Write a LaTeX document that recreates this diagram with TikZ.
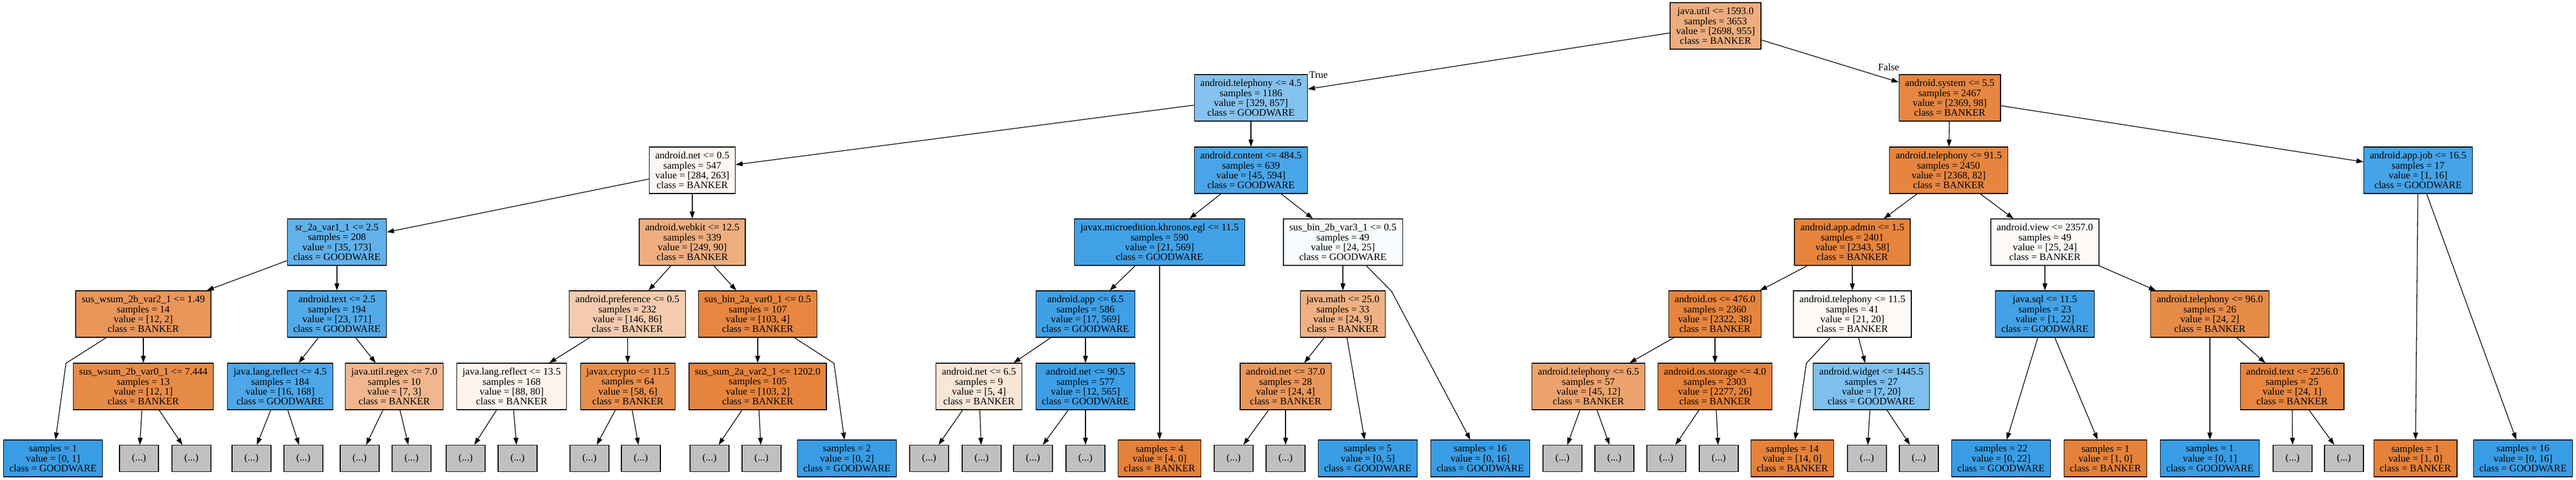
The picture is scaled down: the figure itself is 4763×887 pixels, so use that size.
\documentclass[tikz,border=0pt]{standalone}
\usepackage{fontspec}
\setmainfont{Liberation Serif}
\usetikzlibrary{arrows.meta}
\usepackage{xcolor}

\definecolor{banker}{RGB}{229,129,57}
\definecolor{goodware}{RGB}{57,157,229}
\definecolor{silver}{RGB}{192,192,192}

\newcommand{\splittext}[4]{#1\\samples = #2\\value = [#3]\\class = #4}
\newcommand{\leaftext}[3]{samples = #1\\value = [#2]\\class = #3}

\begin{document}
\begin{tikzpicture}[x=1pt, y=-1pt,
  treebox/.style={draw, line width=1.2pt, align=center, inner xsep=11pt, inner ysep=2pt,
    font=\fontsize{18.5}{18.3}\selectfont},
  splitbox/.style={treebox, minimum height=86pt},
  leafbox/.style={treebox, minimum height=68pt},
  more/.style={treebox, fill=silver, minimum width=72pt, minimum height=49pt},
  conn/.style={-{Triangle[length=13pt, width=9pt]}, line width=1.3pt}]

\useasboundingbox (0,0) rectangle (4763,887);

%level 0
\node [splitbox, fill=banker!65] (n0) at (3172,48) {\splittext{java.util <= 1593.0}{3653}{2698, 955}{BANKER}};

%level 1
\node [splitbox, fill=goodware!62] (n1) at (2313,181) {\splittext{android.telephony <= 4.5}{1186}{329, 857}{GOODWARE}};
\node [splitbox, fill=banker!96] (n2) at (3605,181) {\splittext{android.system <= 5.5}{2467}{2369, 98}{BANKER}};

%level 2
\node [splitbox, fill=banker!7] (n3) at (1280,315) {\splittext{android.net <= 0.5}{547}{284, 263}{BANKER}};
\node [splitbox, fill=goodware!92] (n4) at (2313,315) {\splittext{android.content <= 484.5}{639}{45, 594}{GOODWARE}};
\node [splitbox, fill=banker!97] (n5) at (3603,315) {\splittext{android.telephony <= 91.5}{2450}{2368, 82}{BANKER}};
\node [splitbox, fill=goodware!94] (n6) at (4471,315) {\splittext{android.app.job <= 16.5}{17}{1, 16}{GOODWARE}};

%level 3
\node [splitbox, fill=goodware!80] (n7) at (623,448) {\splittext{sr\_2a\_var1\_1 <= 2.5}{208}{35, 173}{GOODWARE}};
\node [splitbox, fill=banker!64] (n8) at (1280,448) {\splittext{android.webkit <= 12.5}{339}{249, 90}{BANKER}};
\node [splitbox, fill=goodware!96] (n9) at (2144,448) {\splittext{javax.microedition.khronos.egl <= 11.5}{590}{21, 569}{GOODWARE}};
\node [splitbox, fill=goodware!4] (n10) at (2483,448) {\splittext{sus\_bin\_2b\_var3\_1 <= 0.5}{49}{24, 25}{GOODWARE}};
\node [splitbox, fill=banker!98] (n11) at (3425,448) {\splittext{android.app.admin <= 1.5}{2401}{2343, 58}{BANKER}};
\node [splitbox, fill=banker!4] (n12) at (3781,448) {\splittext{android.view <= 2357.0}{49}{25, 24}{BANKER}};

%level 4
\node [splitbox, fill=banker!83] (n13) at (265,581) {\splittext{sus\_wsum\_2b\_var2\_1 <= 1.49}{14}{12, 2}{BANKER}};
\node [splitbox, fill=goodware!87] (n14) at (623,581) {\splittext{android.text <= 2.5}{194}{23, 171}{GOODWARE}};
\node [splitbox, fill=banker!41] (n15) at (1160,581) {\splittext{android.preference <= 0.5}{232}{146, 86}{BANKER}};
\node [splitbox, fill=banker!96] (n16) at (1401,581) {\splittext{sus\_bin\_2a\_var0\_1 <= 0.5}{107}{103, 4}{BANKER}};
\node [splitbox, fill=goodware!97] (n17) at (2007,581) {\splittext{android.app <= 6.5}{586}{17, 569}{GOODWARE}};
\node [splitbox, fill=banker!62] (n18) at (2483,581) {\splittext{java.math <= 25.0}{33}{24, 9}{BANKER}};
\node [splitbox, fill=banker!98] (n19) at (3171,581) {\splittext{android.os <= 476.0}{2360}{2322, 38}{BANKER}};
\node [splitbox, fill=banker!5] (n20) at (3425,581) {\splittext{android.telephony <= 11.5}{41}{21, 20}{BANKER}};
\node [splitbox, fill=goodware!95] (n21) at (3781,581) {\splittext{java.sql <= 11.5}{23}{1, 22}{GOODWARE}};
\node [splitbox, fill=banker!92] (n22) at (4086,581) {\splittext{android.telephony <= 96.0}{26}{24, 2}{BANKER}};

%level 5
\node [splitbox, fill=banker!92] (n23) at (265,715) {\splittext{sus\_wsum\_2b\_var0\_1 <= 7.444}{13}{12, 1}{BANKER}};
\node [splitbox, fill=goodware!90] (n24) at (518,715) {\splittext{java.lang.reflect <= 4.5}{184}{16, 168}{GOODWARE}};
\node [splitbox, fill=banker!57] (n25) at (729,715) {\splittext{java.util.regex <= 7.0}{10}{7, 3}{BANKER}};
\node [splitbox, fill=banker!9] (n26) at (946,715) {\splittext{java.lang.reflect <= 13.5}{168}{88, 80}{BANKER}};
\node [splitbox, fill=banker!90] (n27) at (1161,715) {\splittext{javax.crypto <= 11.5}{64}{58, 6}{BANKER}};
\node [splitbox, fill=banker!98] (n28) at (1401,715) {\splittext{sus\_sum\_2a\_var2\_1 <= 1202.0}{105}{103, 2}{BANKER}};
\node [splitbox, fill=banker!20] (n29) at (1810,715) {\splittext{android.net <= 6.5}{9}{5, 4}{BANKER}};
\node [splitbox, fill=goodware!98] (n30) at (2007,715) {\splittext{android.net <= 90.5}{577}{12, 565}{GOODWARE}};
\node [splitbox, fill=banker!83] (n31) at (2377,715) {\splittext{android.net <= 37.0}{28}{24, 4}{BANKER}};
\node [splitbox, fill=banker!73] (n32) at (2937,715) {\splittext{android.telephony <= 6.5}{57}{45, 12}{BANKER}};
\node [splitbox, fill=banker!99] (n33) at (3171,715) {\splittext{android.os.storage <= 4.0}{2303}{2277, 26}{BANKER}};
\node [splitbox, fill=goodware!65] (n34) at (3460,715) {\splittext{android.widget <= 1445.5}{27}{7, 20}{GOODWARE}};
\node [splitbox, fill=banker!96] (n35) at (4238,715) {\splittext{android.text <= 2256.0}{25}{24, 1}{BANKER}};

%leaves
\node [leafbox, fill=goodware] (l1) at (98,848) {\leaftext{1}{0, 1}{GOODWARE}};
\node [leafbox, fill=goodware] (l2) at (1566,848) {\leaftext{2}{0, 2}{GOODWARE}};
\node [leafbox, fill=banker] (l3) at (2144,848) {\leaftext{4}{4, 0}{BANKER}};
\node [leafbox, fill=goodware] (l4) at (2529,848) {\leaftext{5}{0, 5}{GOODWARE}};
\node [leafbox, fill=goodware] (l5) at (2737,848) {\leaftext{16}{0, 16}{GOODWARE}};
\node [leafbox, fill=banker] (l6) at (3314,848) {\leaftext{14}{14, 0}{BANKER}};
\node [leafbox, fill=goodware] (l7) at (3700,848) {\leaftext{22}{0, 22}{GOODWARE}};
\node [leafbox, fill=banker] (l8) at (3893,848) {\leaftext{1}{1, 0}{BANKER}};
\node [leafbox, fill=goodware] (l9) at (4086,848) {\leaftext{1}{0, 1}{GOODWARE}};
\node [leafbox, fill=banker] (l10) at (4466,848) {\leaftext{1}{1, 0}{BANKER}};
\node [leafbox, fill=goodware] (l11) at (4665,848) {\leaftext{16}{0, 16}{GOODWARE}};

%bends
\coordinate (b1) at (122,672);
\coordinate (b2) at (1542,672);
\coordinate (b3) at (2573,539);
\coordinate (b4) at (3340,672);

%edges
\draw [conn] (n0) -- (n1);
\draw [conn] (n0) -- (n2);
\draw [conn] (n1) -- (n3);
\draw [conn] (n1) -- (n4);
\draw [conn] (n2) -- (n5);
\draw [conn] (n2) -- (n6);
\draw [conn] (n3) -- (n7);
\draw [conn] (n3) -- (n8);
\draw [conn] (n4) -- (n9);
\draw [conn] (n4) -- (n10);
\draw [conn] (n5) -- (n11);
\draw [conn] (n5) -- (n12);
\draw [conn] (n6) -- (l10);
\draw [conn] (n6) -- (l11);
\draw [conn] (n7) -- (n13);
\draw [conn] (n7) -- (n14);
\draw [conn] (n8) -- (n15);
\draw [conn] (n8) -- (n16);
\draw [conn] (n9) -- (n17);
\draw [conn] (n9) -- (l3);
\draw [conn] (n10) -- (n18);
\draw [conn] (n10) -- (b3) -- (l5);
\draw [conn] (n11) -- (n19);
\draw [conn] (n11) -- (n20);
\draw [conn] (n12) -- (n21);
\draw [conn] (n12) -- (n22);
\draw [conn] (n13) -- (b1) -- (l1);
\draw [conn] (n13) -- (n23);
\draw [conn] (n14) -- (n24);
\draw [conn] (n14) -- (n25);
\draw [conn] (n15) -- (n26);
\draw [conn] (n15) -- (n27);
\draw [conn] (n16) -- (n28);
\draw [conn] (n16) -- (b2) -- (l2);
\draw [conn] (n17) -- (n29);
\draw [conn] (n17) -- (n30);
\draw [conn] (n18) -- (n31);
\draw [conn] (n18) -- (l4);
\draw [conn] (n19) -- (n32);
\draw [conn] (n19) -- (n33);
\draw [conn] (n20) -- (b4) -- (l6);
\draw [conn] (n20) -- (n34);
\draw [conn] (n21) -- (l7);
\draw [conn] (n21) -- (l8);
\draw [conn] (n22) -- (l9);
\draw [conn] (n22) -- (n35);

%cut subtrees
\foreach \p/\x in {n23/257, n23/354, n24/465, n24/561, n25/665, n25/761, n26/861, n26/957,
                   n27/1090, n27/1185, n28/1312, n28/1408, n29/1718, n29/1815, n30/1910, n30/2007,
                   n31/2281, n31/2377, n32/2889, n32/2985, n33/3081, n33/3178, n34/3452, n34/3548,
                   n35/4239, n35/4334} {
  \node [more] (g\x) at (\x,848) {(...)};
  \draw [conn] (\p) -- (g\x);
}

%labels
\node [font=\fontsize{18.5}{18.3}\selectfont, inner sep=0pt] (lTrue) at (2438,139) {True};
\node [font=\fontsize{18.5}{18.3}\selectfont, inner sep=0pt] (lFalse) at (3492,124) {False};

\end{tikzpicture}
\end{document}
